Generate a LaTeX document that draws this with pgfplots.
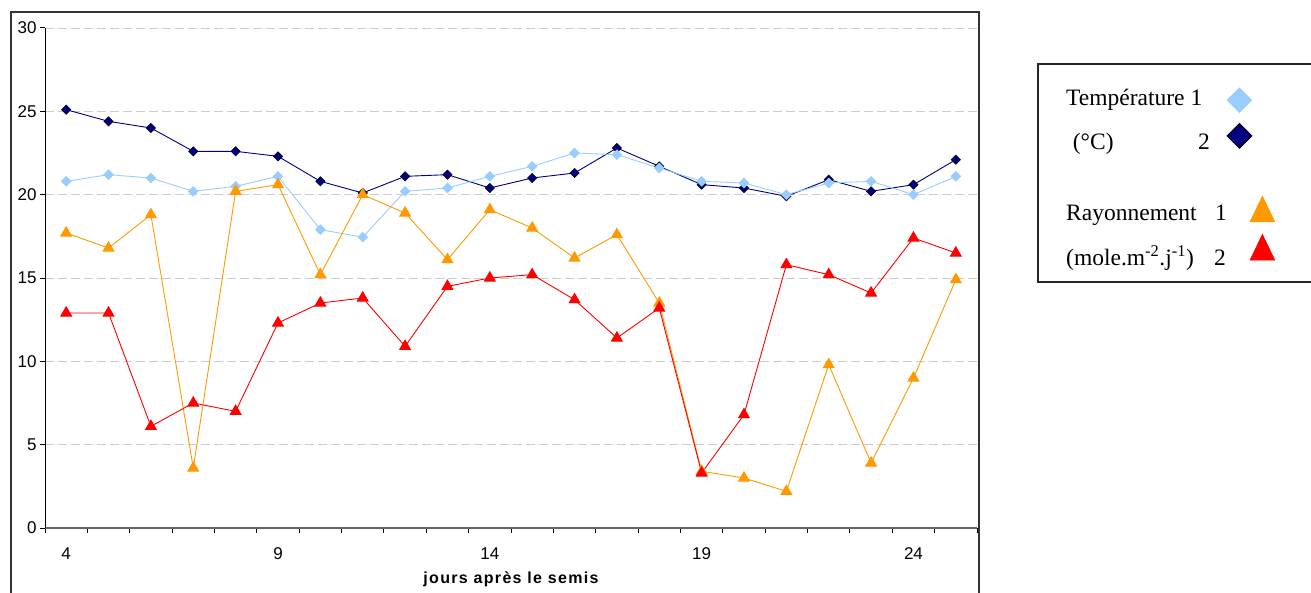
\documentclass[border=0pt]{standalone}
\usepackage{pgfplots}
\pgfplotsset{compat=1.18}
\usepackage{fontspec}
\setmainfont{Liberation Serif}
\newfontfamily\arial{Liberation Sans}
\newfontfamily\arialls[LetterSpace=8.3]{Liberation Sans}
\definecolor{tone}{HTML}{99CCFF}
\definecolor{ttwo}{HTML}{000080}
\definecolor{rone}{HTML}{FF9900}
\definecolor{rtwo}{HTML}{FF0000}

\pgfplotstableread{
x t1 t2 r1 r2
4 20.8 25.1 17.7 12.9
5 21.2 24.4 16.8 12.9
6 21.0 24.0 18.8 6.1
7 20.2 22.6 3.6 7.5
8 20.5 22.6 20.2 7.0
9 21.1 22.3 20.6 12.3
10 17.9 20.8 15.2 13.5
11 17.45 20.1 20.0 13.8
12 20.2 21.1 18.9 10.9
13 20.4 21.2 16.1 14.5
14 21.1 20.4 19.1 15.0
15 21.7 21.0 18.0 15.2
16 22.5 21.3 16.2 13.7
17 22.4 22.8 17.6 11.4
18 21.6 21.7 13.5 13.2
19 20.8 20.6 3.4 3.3
20 20.7 20.4 3.0 6.8
21 20.0 19.9 2.2 15.8
22 20.7 20.9 9.8 15.2
23 20.8 20.2 3.9 14.1
24 20.0 20.6 9.0 17.4
25 21.1 22.1 14.9 16.5
}\data

\begin{document}
\begin{tikzpicture}
\clip (0pt,0pt) rectangle (1311pt,-593pt);
\draw[line width=1.3pt, black!80] (11pt,-12pt) rectangle (979pt,-620pt);
\draw[line width=1.3pt, black!85] (1038pt,-64pt) rectangle (1330pt,-282pt);
\begin{axis}[
  at={(45pt,-528pt)}, anchor=south west,
  scale only axis, width=932pt, height=500pt,
  xmin=3.5, xmax=25.5, ymin=0, ymax=30,
  axis x line=bottom, axis y line=left,
  x axis line style={-, draw=black!60, line width=1.6pt},
  y axis line style={-, draw=black, line width=1pt},
  xtick={4,9,14,19,24},
  major x tick style={draw=none},
  minor xtick={3.5,4.5,...,25.5},
  minor x tick style={black, line width=1pt},
  ytick={0,5,...,30},
  y tick style={black, line width=1pt},
  tick align=outside, major tick length=5pt, minor tick length=5pt,
  ymajorgrids,
  major grid style={dash pattern=on 9pt off 4pt, gray!40, line width=0.9pt},
  tick label style={font=\arial\fontsize{17}{20}\selectfont},
  /pgf/number format/assume math mode=true,
  xticklabel style={yshift=-11pt},
  xlabel={jours après le semis},
  xlabel style={font=\arialls\bfseries\fontsize{16}{19}\selectfont, at={(axis description cs:0.5,0)}, anchor=center, yshift=-51pt},
  clip=false,
  legend style={at={(axis description cs:1.0955,0.9046)}, anchor=north west,
    draw=none, fill=none, inner sep=0pt, row sep=0pt,
    font=\fontsize{23.5}{28}\selectfont,
    nodes={inner sep=0pt, text depth=13.3pt}},
  legend cell align=left,
  legend plot pos=right,
]
\addplot[forget plot, ttwo, line width=0.9pt, mark=square*, mark size=3.3pt, mark options={rotate=45, fill=ttwo, draw=black, line width=0.5pt}] table[x=x, y=t2] {\data};
\addplot[forget plot, tone, line width=0.9pt, mark=square*, mark size=3.3pt, mark options={rotate=45, fill=tone, draw=tone}] table[x=x, y=t1] {\data};
\addplot[forget plot, rone, line width=0.9pt, mark=triangle*, mark size=6.2pt, mark options={fill=rone, draw=rone}] table[x=x, y=r1] {\data};
\addplot[forget plot, rtwo, line width=0.9pt, mark=triangle*, mark size=6.2pt, mark options={fill=rtwo, draw=rtwo}] table[x=x, y=r2] {\data};

\addlegendimage{only marks, mark=square*, mark size=8.8pt, mark options={xshift=-4pt, yshift=-2.65pt, rotate=45, fill=tone, draw=tone}}
\addlegendentry{\rule{0pt}{30pt}Température 1}
\addlegendimage{only marks, mark=square*, mark size=8.8pt, mark options={xshift=-4pt, yshift=4.95pt, rotate=45, fill=ttwo, draw=black, line width=0.8pt}}
\addlegendentry{\rule{0pt}{30pt}\makebox[132pt][l]{\hspace{6.7pt}(°C)}2}
\addlegendimage{empty legend}
\addlegendentry{\rule{0pt}{15.1pt}}
\addlegendimage{only marks, mark=triangle*, mark size=14.4pt, mark options={xshift=19pt, yshift=-0.65pt, yscale=1.2, fill=rone, draw=rone}}
\addlegendentry{\rule{0pt}{30pt}\makebox[149pt][l]{Rayonnement}1}
\addlegendimage{only marks, mark=triangle*, mark size=14.4pt, mark options={xshift=19pt, yshift=5.35pt, yscale=1.2, fill=rtwo, draw=rtwo}}
\addlegendentry{\rule{0pt}{30pt}\makebox[148pt][l]{(mole.m\textsuperscript{-2}.j\textsuperscript{-1})}2}
\end{axis}
\end{tikzpicture}
\end{document}
